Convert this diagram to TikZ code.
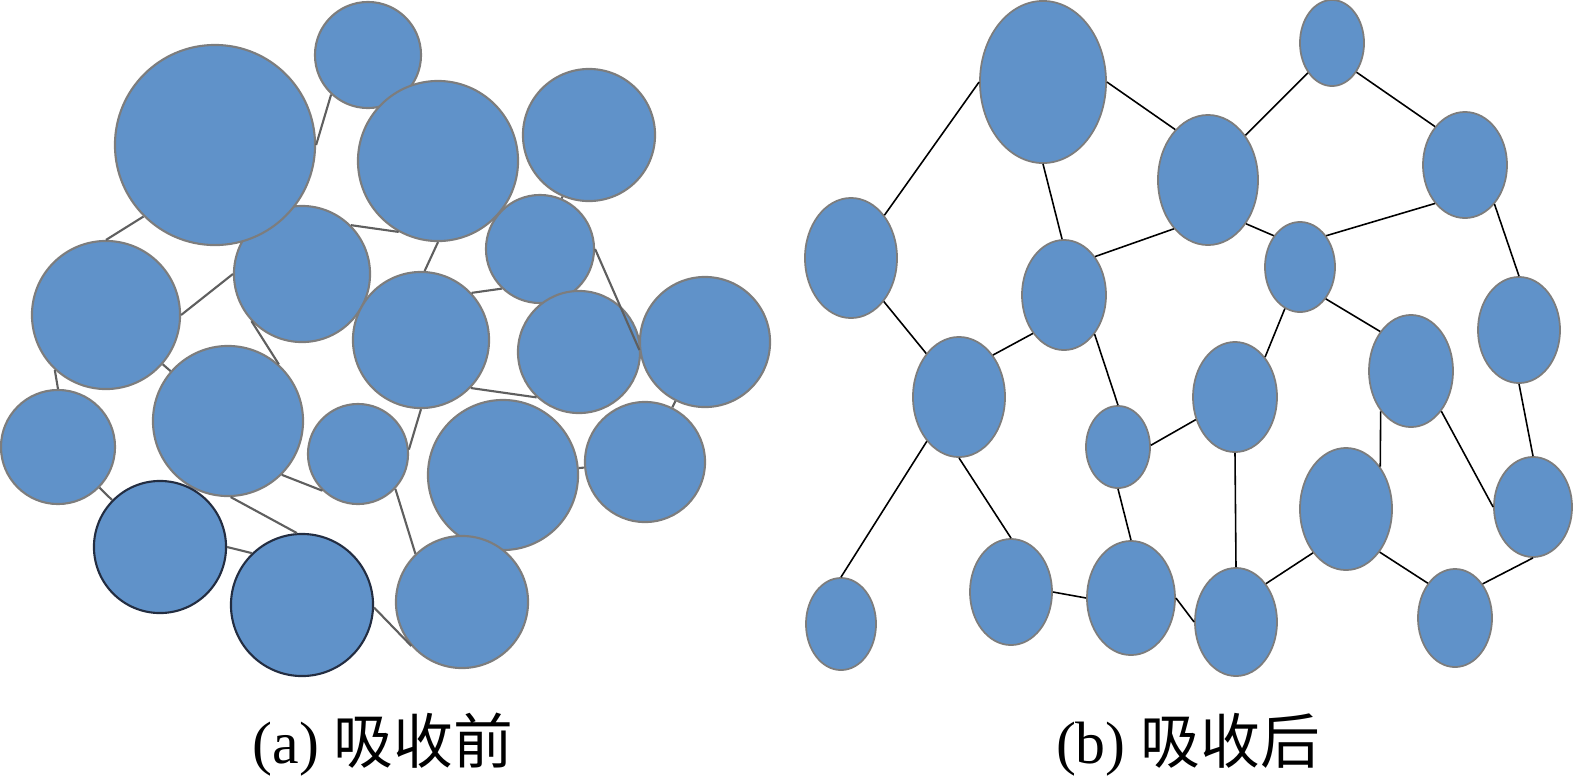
\documentclass[tikz,border=0pt]{standalone}
\usepackage{fontspec}
\setmainfont{Liberation Serif}
\newfontfamily\cjk{Noto Sans CJK SC}
\usetikzlibrary{shapes.geometric}
\definecolor{cellblue}{RGB}{96,146,201}
\definecolor{rimgray}{RGB}{125,125,125}
\definecolor{rimdark}{RGB}{35,45,65}
\definecolor{linkgray}{RGB}{95,95,95}
\tikzset{
	ball/.style={circle,fill=cellblue,draw=rimgray,line width=0.6pt,inner sep=0pt,minimum size=#1},
	blob/.style 2 args={ellipse,fill=cellblue,draw=rimgray,line width=0.5pt,inner sep=0pt,minimum width=#1,minimum height=#2},
	link/.style={draw=linkgray,line width=0.6pt},
	tie/.style={draw=black,line width=0.45pt},
	caption/.style={font=\fontsize{17}{20}\selectfont}
}
\begin{document}
\begin{tikzpicture}[x=0.01cm,y=-0.01cm]
				\useasboundingbox (0,0) rectangle (1575,781);
				% (a) before absorption
				\node[ball=1.36cm] (a5) at (302,274) {};
				\node[ball=2.00cm] (a2) at (215,145) {};
				\node[ball=1.06cm] (a1) at (368,55) {};
				\node[ball=1.60cm] (a3) at (438,161) {};
				\node[ball=1.32cm] (a4) at (589,135) {};
				\node[ball=1.48cm] (a6) at (106,315) {};
				\node[ball=1.08cm] (a7) at (540,249) {};
				\node[ball=1.36cm] (a8) at (421,340) {};
				\node[ball=1.22cm] (a9) at (579,352) {};
				\node[ball=1.30cm] (a10) at (705,342) {};
				\node[ball=1.50cm] (a11) at (228,421) {};
				\node[ball=1.14cm] (a12) at (58,447) {};
				\node[ball=1.00cm] (a13) at (358,454) {};
				\node[ball=1.50cm] (a14) at (503,475) {};
				\node[ball=1.20cm] (a15) at (645,462) {};
				\node[ball=1.32cm,draw=rimdark] (a16) at (160,547) {};
				\node[ball=1.42cm,draw=rimdark] (a17) at (302,605) {};
				\node[ball=1.32cm] (a18) at (462,602) {};

				\draw[link] (a2.0) -- (a1.227);
				\draw[link] (a2.225) -- (a6.90);
				\draw[link] (a6.0) -- (a5.180);
				\draw[link] (a5.45) -- (a3.241);
				\draw[link] (a5.223) -- (a11.48);
				\draw[link] (a3.270) -- (a8.87);
				\draw[link] (a8.43) -- (a7.226);
				\draw[link] (a4) -- (a7);
				\draw[link] (a7.0) -- (a10.187);
				\draw[link] (a6.227) -- (a12.90);
				\draw[link] (a6) -- (a11);
				\draw[link] (a12) -- (a16);
				\draw[link] (a11.272) -- (a17.94);
				\draw[link] (a16.0) -- (a17.134);
				\draw[link] (a17.358) -- (a18.221);
				\draw[link] (a13.317) -- (a18.134);
				\draw[link] (a8.270) -- (a13.5);
				\draw[link] (a8.316) -- (a9.227);
				\draw[link] (a11.315) -- (a13.226);
				\draw[link] (a14) -- (a15);
				\draw[link] (a15) -- (a10);

				% (b) after absorption
				\node[blob={1.26cm}{1.62cm}] (b1) at (1043,82) {};
				\node[blob={0.92cm}{1.20cm}] (b2) at (851,258) {};
				\node[blob={0.84cm}{1.10cm}] (b3) at (1064,295) {};
				\node[blob={1.00cm}{1.30cm}] (b4) at (1208,180) {};
				\node[blob={0.64cm}{0.86cm}] (b5) at (1332,43) {};
				\node[blob={0.84cm}{1.06cm}] (b6) at (1465,165) {};
				\node[blob={0.70cm}{0.90cm}] (b7) at (1300,267) {};
				\node[blob={0.82cm}{1.06cm}] (b8) at (1519,330) {};
				\node[blob={0.84cm}{1.12cm}] (b9) at (1411,371) {};
				\node[blob={0.92cm}{1.20cm}] (b10) at (959,397) {};
				\node[blob={0.64cm}{0.82cm}] (b11) at (1118,447) {};
				\node[blob={0.84cm}{1.10cm}] (b12) at (1235,397) {};
				\node[blob={0.70cm}{0.92cm}] (b13) at (841,624) {};
				\node[blob={0.82cm}{1.06cm}] (b14) at (1011,592) {};
				\node[blob={0.88cm}{1.14cm}] (b15) at (1131,598) {};
				\node[blob={0.82cm}{1.08cm}] (b16) at (1236,622) {};
				\node[blob={0.92cm}{1.22cm}] (b17) at (1346,509) {};
				\node[blob={0.78cm}{1.00cm}] (b18) at (1533,507) {};
				\node[blob={0.74cm}{0.98cm}] (b19) at (1455,618) {};

				\draw[tie] (b2.52) -- (b1.180);
				\draw[tie] (b1.0) -- (b4.123);
				\draw[tie] (b1.270) -- (b3.92);
				\draw[tie] (b3.51) -- (b4.235);
				\draw[tie] (b4.50) -- (b5.231);
				\draw[tie] (b5.310) -- (b6.128);
				\draw[tie] (b4.311) -- (b7.130);
				\draw[tie] (b7.50) -- (b6.232);
				\draw[tie] (b6.307) -- (b8.90);
				\draw[tie] (b7.250) -- (b12.53);
				\draw[tie] (b7.309) -- (b9.128);
				\draw[tie] (b2.307) -- (b10.127);
				\draw[tie] (b10.51) -- (b3.231);
				\draw[tie] (b3.308) -- (b11.90);
				\draw[tie] (b11.3) -- (b12.210);
				\draw[tie] (b10.234) -- (b13.90);
				\draw[tie] (b10.270) -- (b14.90);
				\draw[tie] (b11.270) -- (b15.90);
				\draw[tie] (b14.0) -- (b15.180);
				\draw[tie] (b15.0) -- (b16.180);
				\draw[tie] (b12.270) -- (b16.90);
				\draw[tie] (b16.52) -- (b17.233);
				\draw[tie] (b9.233) -- (b17.51);
				\draw[tie] (b17.308) -- (b19.128);
				\draw[tie] (b9.307) -- (b18.180);
				\draw[tie] (b8.270) -- (b18.90);
				\draw[tie] (b19.51) -- (b18.270);

				% captions
				\node[caption] (capa) at (383,745) {(a) {\cjk 吸收前}};
				\node[caption] (capb) at (1188,745) {(b) {\cjk 吸收后}};
\end{tikzpicture}
\end{document}
